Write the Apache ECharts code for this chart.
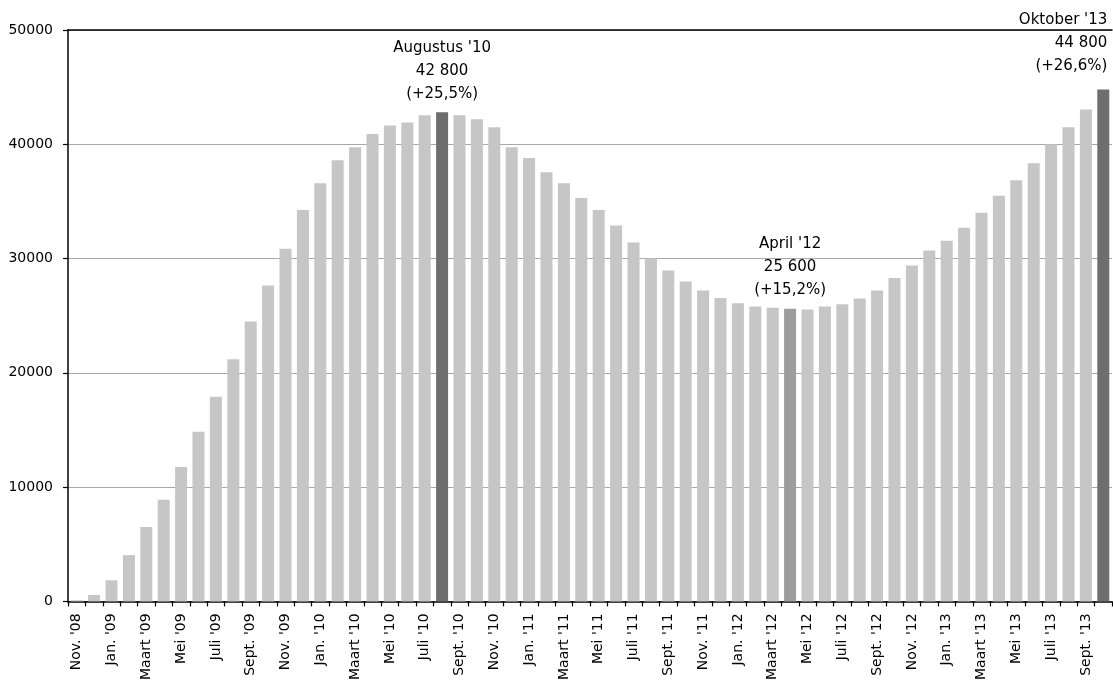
<!DOCTYPE html>
<html>
<head>
<meta charset="utf-8">
<style>html,body{margin:0;padding:0;background:#fff;}#chart{width:1113px;height:683px;}</style>
<script src="https://cdn.jsdelivr.net/npm/echarts@6/dist/echarts.min.js"></script>
</head>
<body>
<div id="chart"></div>
<script>
const categories = [
  "Nov. '08","Dec. '08","Jan. '09","Feb. '09","Maart '09","April '09","Mei '09","Juni '09","Juli '09","Aug. '09","Sept. '09","Okt. '09",
  "Nov. '09","Dec. '09","Jan. '10","Feb. '10","Maart '10","April '10","Mei '10","Juni '10","Juli '10","Aug. '10","Sept. '10","Okt. '10",
  "Nov. '10","Dec. '10","Jan. '11","Feb. '11","Maart '11","April '11","Mei '11","Juni '11","Juli '11","Aug. '11","Sept. '11","Okt. '11",
  "Nov. '11","Dec. '11","Jan. '12","Feb. '12","Maart '12","April '12","Mei '12","Juni '12","Juli '12","Aug. '12","Sept. '12","Okt. '12",
  "Nov. '12","Dec. '12","Jan. '13","Feb. '13","Maart '13","April '13","Mei '13","Juni '13","Juli '13","Aug. '13","Sept. '13","Okt. '13"
];
const values = [
  100, 560, 1850, 4050, 6500, 8900, 11750, 14850, 17900, 21200, 24500, 27650,
  30850, 34250, 36600, 38600, 39750, 40900, 41650, 41900, 42550, 42800, 42550, 42200,
  41500, 39750, 38800, 37550, 36600, 35300, 34250, 32900, 31400, 30000, 28950, 28000,
  27200, 26550, 26100, 25800, 25700, 25600, 25550, 25800, 26000, 26500, 27200, 28300,
  29400, 30700, 31550, 32700, 34000, 35500, 36850, 38350, 40000, 41500, 43050, 44800
];
const yTicks = [0, 10000, 20000, 30000, 40000, 50000];
const annotationIndex = [21, 41, 59];
const annotationText = [
  "Augustus '10\n42 800\n(+25,5%)",
  "April '12\n25 600\n(+15,2%)",
  "Oktober '13\n44 800\n(+26,6%)"
];

const baseColor = '#c6c6c6';
const annColors = ['#6e6e6e', '#9d9d9d', '#6e6e6e'];
const annLabelStyle = [
  {position: 'top', distance: 7, align: 'center'},
  {position: 'top', distance: 7, align: 'center'},
  {position: 'top', distance: 12, align: 'right', offset: [4, 0]}
];

const seriesData = values.map((v, i) => {
  const k = annotationIndex.indexOf(i);
  if (k < 0) return {value: v, itemStyle: {color: baseColor}};
  return {
    value: v,
    itemStyle: {color: annColors[k]},
    label: Object.assign({
      show: true,
      formatter: annotationText[k],
      fontFamily: 'DejaVu Sans',
      fontSize: 15,
      lineHeight: 23,
      color: '#000'
    }, annLabelStyle[k])
  };
});

const chart = echarts.init(document.getElementById('chart'), null, {renderer: 'canvas'});
chart.setOption({
  animation: false,
  backgroundColor: '#fff',
  grid: {left: 68, right: 1, top: 30, bottom: 81, containLabel: false},
  xAxis: [{
    type: 'category',
    data: categories,
    boundaryGap: true,
    axisLine: {show: true, lineStyle: {color: '#000', width: 1.5}},
    axisTick: {show: true, interval: 0, length: 5, lineStyle: {color: '#000', width: 1.2}},
    axisLabel: {
      interval: 1, rotate: 90, margin: 12,
      fontFamily: 'DejaVu Sans', fontSize: 14, color: '#000'
    },
    splitLine: {show: false}
  }, {
    type: 'category',
    position: 'top',
    data: categories,
    axisLine: {show: true, lineStyle: {color: '#000', width: 1.5}},
    axisTick: {show: false},
    axisLabel: {show: false}
  }],
  yAxis: {
    type: 'value',
    min: yTicks[0],
    max: yTicks[yTicks.length - 1],
    interval: yTicks[1] - yTicks[0],
    axisLine: {show: true, lineStyle: {color: '#000', width: 1.5}},
    axisTick: {show: true, length: 5, lineStyle: {color: '#000', width: 1.2}},
    axisLabel: {
      margin: 15, fontFamily: 'DejaVu Sans', fontSize: 14, color: '#000',
      formatter: (v) => String(v)
    },
    splitLine: {show: true, lineStyle: {color: '#a8a8a8', width: 1}}
  },
  series: [{
    type: 'bar',
    data: seriesData,
    barWidth: 12,
    xAxisIndex: 0
  }]
});
</script>
</body>
</html>
